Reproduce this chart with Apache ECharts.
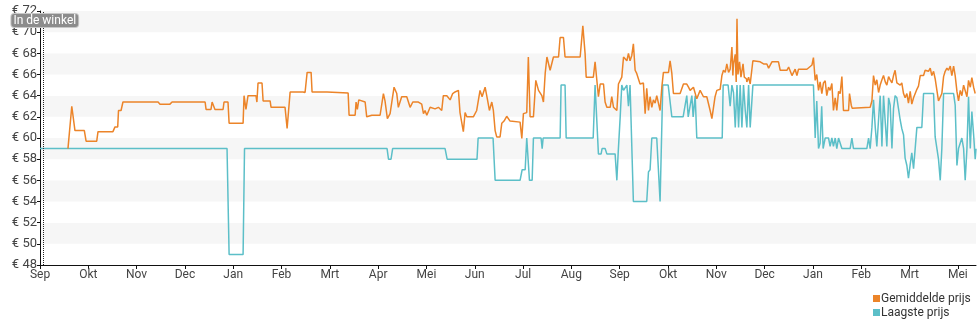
<!DOCTYPE html>
<html>
<head>
<meta charset="utf-8">
<script src="https://cdn.jsdelivr.net/npm/echarts@6/dist/echarts.min.js"></script>
<style>
  html, body { margin: 0; padding: 0; background: #fff; }
  #chart { width: 980px; height: 325px; }
</style>
</head>
<body>
<div id="chart"></div>
<script>
// Month labels under each tick (ticks are spaced one "month" of 30.4 days apart)
const monthLabels = ['Sep','Okt','Nov','Dec','Jan','Feb','Mrt','Apr','Mei','Jun','Jul','Aug','Sep','Okt','Nov','Dec','Jan','Feb','Mrt','Mei'];
const MONTH_DAYS = 30.4;
const LAST_DAY = 589;
const STORE_DAY = 2; // "In de winkel" since

// Gemiddelde prijs: day offset and average price (EUR)
const avgDays = [
  17.6, 20.0, 22.0, 27.9, 29.0, 35.7, 36.5, 45.9, 47.2, 48.9,
  49.4, 51.0, 52.2, 74.3, 75.5, 81.8, 83.1, 103.9, 104.5, 107.6,
  108.3, 109.5, 110.1, 115.2, 115.8, 118.3, 119.0, 127.8, 128.4, 129.6,
  130.9, 135.9, 136.5, 137.2, 139.7, 140.4, 144.8, 145.4, 154.2, 155.5,
  157.4, 165.5, 166.2, 166.8, 168.1, 170.6, 171.2, 180.6, 181.3, 193.9,
  194.5, 198.3, 198.9, 199.7, 200.6, 204.6, 205.6, 208.8, 214.0, 215.1,
  216.1, 217.1, 218.6, 220.3, 222.8, 224.5, 225.5, 227.6, 230.8, 232.9,
  234.6, 238.1, 240.2, 241.3, 242.3, 243.4, 245.5, 248.6, 250.7, 252.8,
  253.8, 256.0, 258.1, 259.7, 261.2, 263.3, 264.3, 266.4, 267.5, 268.6,
  272.7, 274.8, 276.9, 278.2, 280.1, 281.5, 282.8, 284.3, 285.3, 286.4,
  287.4, 289.5, 290.6, 292.0, 293.7, 295.8, 296.9, 302.1, 303.2, 304.2,
  306.3, 307.3, 308.4, 310.5, 312.0, 313.7, 315.8, 316.8, 317.9, 319.0,
  321.0, 323.1, 326.3, 327.3, 329.4, 330.4, 339.9, 341.6, 343.0, 343.7,
  348.2, 349.3, 350.4, 351.4, 352.5, 354.6, 355.6, 356.7, 358.8, 359.8,
  360.9, 363.0, 364.0, 366.1, 367.2, 369.3, 370.3, 371.3, 372.4, 373.4,
  374.5, 375.5, 377.6, 379.7, 380.8, 381.8, 382.9, 383.9, 385.0, 386.0,
  387.1, 388.1, 390.2, 391.3, 392.3, 395.5, 396.5, 397.6, 398.6, 402.8,
  404.9, 407.0, 408.1, 409.1, 411.2, 413.3, 415.4, 417.5, 419.6, 421.7,
  422.8, 423.8, 424.8, 425.9, 428.0, 429.1, 430.1, 431.2, 432.2, 433.3,
  434.3, 435.4, 436.0, 436.4, 437.5, 438.1, 438.6, 439.2, 440.2, 441.1,
  442.4, 443.2, 444.5, 444.8, 445.9, 446.9, 447.9, 448.6, 453.2, 454.3,
  455.3, 457.4, 458.5, 460.6, 464.7, 465.8, 470.0, 471.1, 473.2, 475.2,
  476.3, 477.3, 479.5, 480.5, 482.6, 483.7, 485.8, 486.7, 487.8, 488.8,
  489.9, 490.9, 492.0, 493.0, 494.1, 495.1, 496.2, 497.2, 498.3, 499.3,
  500.4, 501.4, 502.5, 503.5, 504.6, 505.6, 508.8, 509.4, 510.5, 511.1,
  511.9, 522.4, 523.5, 524.5, 525.6, 526.6, 527.7, 528.7, 529.8, 530.8,
  531.9, 532.9, 534.0, 535.0, 536.1, 537.1, 538.1, 539.2, 541.3, 542.3,
  543.4, 544.4, 545.5, 546.5, 547.6, 548.6, 549.7, 551.8, 552.8, 553.9,
  554.9, 556.0, 557.0, 559.1, 560.2, 561.2, 562.3, 563.3, 564.4, 565.4,
  567.5, 568.6, 569.6, 570.7, 571.7, 572.8, 573.8, 574.9, 575.9, 577.0,
  578.0, 579.1, 580.1, 581.2, 583.3, 584.3, 585.4, 586.4, 587.5, 588.5
];
const avgPrices = [
  59, 63, 60.7, 60.7, 59.7, 59.7, 60.6, 60.6, 61.05, 61.05,
  62.6, 62.6, 63.4, 63.4, 63.2, 63.2, 63.4, 63.4, 62.7, 62.7,
  63.4, 63.4, 62.7, 62.7, 63.4, 63.4, 61.4, 61.4, 64.0, 62.7,
  64.0, 64.0, 63.4, 65.2, 65.2, 63.5, 63.5, 62.9, 62.9, 60.9,
  64.35, 64.35, 64.5, 64.3, 66.2, 66.2, 64.35, 64.35, 64.25, 64.25,
  62.15, 62.15, 63.4, 62.7, 63.6, 63.4, 62.0, 62.15, 62.15, 62.0,
  64.2, 63.5, 61.84, 62.3, 64.8, 64.2, 62.9, 63.9, 63.9, 62.9,
  63.4, 63.4, 63.2, 62.3, 62.6, 62.15, 62.9, 62.75, 62.9, 62.6,
  64.0, 64.0, 63.6, 64.2, 64.35, 64.5, 62.4, 60.6, 62.4, 62.0,
  62.0, 62.6, 64.5, 63.9, 64.8, 63.7, 62.6, 63.4, 62.6, 60.7,
  60.1, 60.1, 61.4, 61.6, 62.05, 61.6, 61.5, 61.5, 59.95, 62.3,
  62.4, 67.65, 62.0, 62.0, 65.45, 64.5, 64.0, 63.4, 66.1, 67.65,
  66.4, 67.65, 67.65, 69.5, 69.5, 67.65, 67.65, 70.6, 68.0, 65.75,
  65.75, 67.2, 67.2, 63.9, 65.1, 65.1, 63.4, 62.9, 62.9, 63.9,
  62.9, 62.6, 65.1, 65.75, 67.65, 67.3, 68.0, 67.3, 67.8, 68.9,
  66.4, 66.1, 65.1, 65.2, 62.3, 64.7, 62.6, 63.9, 62.9, 63.6,
  63.3, 64.0, 62.6, 64.8, 66.2, 66.2, 67.3, 66.1, 64.2, 64.2,
  65.1, 65.1, 64.8, 64.5, 64.8, 63.7, 64.5, 63.9, 63.9, 62.6,
  61.84, 61.84, 63.9, 64.5, 64.6, 65.9, 66.4, 66.2, 67.0, 66.2,
  66.5, 68.6, 65.9, 67.0, 67.9, 65.3, 71.27, 66.0, 67.2, 65.75,
  67.0, 65.75, 65.6, 65.3, 65.75, 65.1, 65.1, 67.3, 67.2, 67.3,
  67.0, 67.0, 66.6, 67.2, 67.2, 66.4, 66.4, 66.7, 65.9, 66.5,
  65.9, 66.5, 66.5, 66.4, 66.5, 66.4, 66.9, 67.6, 65.45, 66.0,
  64.5, 65.3, 64.2, 65.2, 65.4, 64.0, 64.8, 64.5, 65.15, 62.6,
  63.8, 62.6, 64.4, 64.2, 65.8, 62.6, 62.6, 64.2, 63.1, 62.8,
  62.9, 62.9, 63.5, 65.9, 65.0, 65.5, 64.3, 65.0, 65.5, 65.9,
  65.3, 65.0, 65.8, 65.5, 65.2, 65.9, 66.4, 65.2, 65.0, 65.2,
  64.2, 63.8, 64.2, 63.3, 64.4, 63.2, 63.8, 64.6, 64.9, 65.9,
  66.0, 65.9, 66.4, 66.3, 66.6, 65.9, 66.3, 65.6, 64.5, 63.5,
  64.2, 65.8, 66.3, 66.6, 66.4, 66.8, 65.9, 66.8, 65.9, 64.4,
  63.5, 64.5, 64.0, 65.0, 63.9, 65.45, 64.8, 65.7, 64.8, 64.2
];

// Laagste prijs: day offset and lowest price (EUR)
const lowDays = [
  0, 117.7, 119.0, 127.8, 128.7, 218.4, 219.3, 220.9, 221.9, 254.9,
  256.2, 275.0, 275.7, 285.1, 286.4, 302.1, 303.4, 305.3, 306.3, 307.3,
  308.0, 309.7, 310.5, 315.3, 316.0, 316.6, 327.3, 327.9, 330.4, 331.1,
  348.1, 349.3, 350.4, 351.4, 353.1, 353.7, 355.6, 356.7, 361.9, 363.0,
  363.8, 365.1, 366.1, 367.2, 369.3, 370.3, 371.3, 372.4, 373.4, 381.8,
  382.9, 383.9, 385.0, 388.1, 390.2, 391.9, 395.3, 397.6, 404.7, 407.0,
  407.9, 410.2, 411.0, 412.3, 413.3, 429.3, 429.9, 433.0, 434.3, 435.4,
  436.4, 437.5, 438.6, 439.6, 440.6, 441.7, 442.7, 443.8, 444.8, 445.9,
  446.9, 447.9, 448.6, 486.7, 487.8, 488.8, 489.9, 490.9, 491.9, 492.8,
  494.1, 496.2, 497.2, 498.3, 499.3, 500.4, 501.4, 502.5, 503.5, 504.6,
  509.8, 510.9, 511.9, 520.3, 521.4, 522.4, 523.5, 524.5, 525.6, 526.6,
  527.7, 528.7, 529.8, 530.8, 531.9, 532.9, 534.0, 535.0, 536.1, 537.1,
  538.1, 539.2, 540.2, 541.3, 542.3, 543.4, 544.4, 545.5, 546.5, 547.6,
  548.6, 549.7, 550.7, 551.8, 554.9, 556.0, 562.3, 563.3, 565.4, 566.5,
  567.5, 568.6, 574.9, 575.9, 577.0, 578.0, 580.1, 581.2, 582.2, 583.3,
  584.3, 585.4, 586.4, 587.5, 588.5, 589
];
const lowPrices = [
  59, 59, 49, 49, 59, 59, 58, 58, 59, 59,
  58, 58, 60, 60, 56, 56, 57, 57, 60, 60,
  56, 56, 60, 60, 59, 60, 60, 65, 65, 60,
  60, 65, 65, 58.5, 58.5, 59, 59, 58.5, 58.5, 56,
  58.5, 62, 65, 64.5, 65, 63, 65, 65, 54, 54,
  56.8, 57, 60, 60, 54, 65, 65, 62, 62, 64,
  62, 64, 62, 64, 60, 60, 65, 65, 63, 65,
  64.3, 61, 65, 61, 65, 61, 65, 62.6, 61, 65,
  61, 61, 65, 65, 60, 63.5, 59, 59.5, 63, 59,
  60, 60, 59.2, 60, 59.2, 60, 59, 60, 60, 59,
  59, 60, 59, 59, 60, 59, 61, 63.6, 61, 59.2,
  61.8, 64, 59.2, 64, 64, 59.2, 63.8, 63.1, 59, 62.8,
  64, 63.8, 62.8, 61.7, 60.9, 60.3, 58.1, 57.4, 56.2, 57.5,
  58.6, 57.1, 57.1, 61, 61, 64.2, 64.2, 60.1, 58, 56,
  59, 64.2, 64.2, 63.1, 57.4, 59, 60, 59, 56, 59,
  63.9, 59, 62.5, 60.3, 58, 59
];

const yTicks = { min: 48, max: 72, step: 2 };

const pair = (xs, ys) => xs.map((x, i) => [x, ys[i]]);
const tickDays = monthLabels.map((_, i) => +(i * MONTH_DAYS).toFixed(2));

const FONT = 'Roboto, "Noto Sans", sans-serif';
const chart = echarts.init(document.getElementById('chart'), null, { renderer: 'canvas' });

chart.setOption({
  animation: false,
  backgroundColor: '#ffffff',
  textStyle: { fontFamily: FONT },
  grid: { left: 40, right: 4, top: 11, bottom: 60, containLabel: false },
  legend: {
    orient: 'vertical',
    left: 873,
    bottom: 6,
    icon: 'rect',
    itemWidth: 7,
    itemHeight: 7,
    itemGap: 1,
    padding: 0,
    textStyle: { fontSize: 12, lineHeight: 13, color: '#333', fontFamily: FONT, padding: [0, 0, 0, -4] },
    data: ['Gemiddelde prijs', 'Laagste prijs']
  },
  xAxis: {
    type: 'value',
    min: 0,
    max: LAST_DAY,
    interval: MONTH_DAYS,
    axisLine: { show: true, lineStyle: { color: '#111', width: 1 } },
    axisTick: { show: true, length: 4, lineStyle: { color: '#111' }, customValues: tickDays },
    axisLabel: {
      color: '#444', fontSize: 12, margin: 4, fontFamily: FONT,
      customValues: tickDays,
      formatter: v => monthLabels[Math.round(v / MONTH_DAYS)] || ''
    },
    splitLine: { show: false }
  },
  yAxis: {
    type: 'value',
    min: yTicks.min,
    max: yTicks.max,
    interval: yTicks.step,
    axisLine: { show: true, lineStyle: { color: '#111', width: 1 } },
    axisTick: { show: true, length: 3, lineStyle: { color: '#111' } },
    axisLabel: { color: '#444', fontSize: 13, margin: 3, fontFamily: FONT, formatter: '€ {value}' },
    splitLine: { show: false },
    splitArea: { show: true, areaStyle: { color: ['#ffffff', '#f6f6f6'] } }
  },
  series: [
    {
      name: 'Gemiddelde prijs',
      type: 'line',
      data: pair(avgDays, avgPrices),
      showSymbol: false,
      color: '#ec8429',
      lineStyle: { width: 1.5, color: '#ec8429' },
      z: 3
    },
    {
      name: 'Laagste prijs',
      type: 'line',
      data: pair(lowDays, lowPrices),
      showSymbol: false,
      color: '#5cbfc8',
      lineStyle: { width: 1.5, color: '#5cbfc8' },
      z: 2,
      markLine: {
        silent: true,
        symbol: ['none', 'none'],
        label: { show: false },
        lineStyle: { type: 'dotted', color: '#222', width: 1 },
        data: [{ xAxis: STORE_DAY }]
      },
      markPoint: {
        silent: true,
        symbol: 'rect',
        symbolSize: 1,
        itemStyle: { color: 'rgba(0,0,0,0)' },
        label: {
          show: true,
          position: 'inside',
          formatter: 'In de winkel',
          color: '#fff',
          fontSize: 12,
          fontFamily: FONT,
          backgroundColor: '#8c8c8c',
          borderColor: '#c8c8c8',
          borderWidth: 1,
          borderRadius: 3,
          padding: [1, 2, 0, 2]
        },
        data: [{ coord: [STORE_DAY + 1, 71.1] }]
      }
    }
  ]
});
</script>
</body>
</html>
